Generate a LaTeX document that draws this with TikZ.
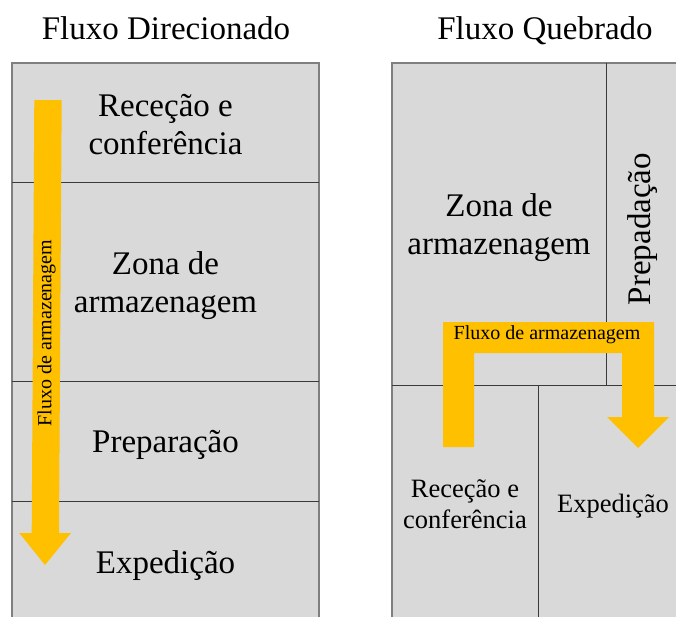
\documentclass[tikz,border=0pt]{standalone}
\usepackage{fontspec}
\setmainfont{Liberation Serif}
\definecolor{cellgray}{HTML}{D9D9D9}
\definecolor{flowgold}{HTML}{FFC000}
\definecolor{edgegray}{HTML}{7F7F7F}
\definecolor{lineDark}{HTML}{3A3A3A}
\begin{document}
\begin{tikzpicture}[x=1pt,y=-1pt,
  outerbox/.style={fill=cellgray,draw=edgegray,line width=1.4pt},
  divider/.style={draw=lineDark,line width=1pt},
  flowshape/.style={fill=flowgold,draw=none},
  bigtxt/.style={font=\fontsize{33}{38}\selectfont,align=center,inner sep=0pt},
  midtxt/.style={font=\fontsize{26.5}{31.5}\selectfont,align=center,inner sep=0pt},
  smalltxt/.style={font=\fontsize{20}{24}\selectfont,inner sep=0pt}]
\useasboundingbox (0,0) rectangle (676,616);
% titles
\node[bigtxt,anchor=base] (t1) at (166,39.5) {Fluxo Direcionado};
\node[bigtxt,anchor=base] (t2) at (545,39.5) {Fluxo Quebrado};
% left panel
\path[outerbox] (12,63) rectangle (319,630);
\draw[divider] (12,182) -- (319,182);
\draw[divider] (12,381) -- (319,381);
\draw[divider] (12,501) -- (319,501);
% right panel
\path[outerbox] (392,63) rectangle (700,630);
\draw[divider] (606,63) -- (606,385);
\draw[divider] (392,385) -- (700,385);
\draw[divider] (538,385) -- (538,630);
% left arrow
\path[flowshape] (34.3,100) -- (61.7,100) -- (59,533) -- (71,533) -- (45,565) -- (19.3,533) -- (31.7,533) -- cycle;
\node[smalltxt,rotate=90] (la) at (46.5,333) {Fluxo de armazenagem};
% right arrow
\path[flowshape] (443,447) -- (443,322) -- (654,322) -- (654,417) -- (669,417) -- (638,448) -- (607,417) -- (622,417) -- (622,353) -- (474,353) -- (474,447) -- cycle;
\node[smalltxt] (ra) at (547,335) {Fluxo de armazenagem};
% left texts
\node[bigtxt] (l1) at (165.5,124.5) {Receção e\\conferência};
\node[bigtxt] (l2) at (165.5,286) {Zona de\\armazenagem};
\node[bigtxt] (l3) at (165.5,445) {Preparação};
\node[bigtxt] (l4) at (165.5,566) {Expedição};
% right texts
\node[bigtxt] (r1) at (499,228) {Zona de\\armazenagem};
\node[bigtxt,rotate=90] (r2) at (643,229) {Prepadação};
\node[midtxt] (r3) at (465,504) {Receção e\\conferência};
\node[midtxt] (r4) at (613,506) {Expedição};
\end{tikzpicture}
\end{document}
